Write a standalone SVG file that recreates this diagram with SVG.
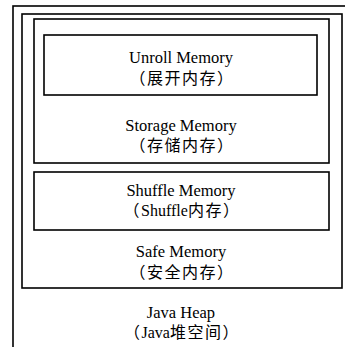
<svg xmlns="http://www.w3.org/2000/svg" width="345" height="347" viewBox="0 0 345 347">
<style>
.box{fill:none;stroke:#000;stroke-width:1.6}
.t{font-family:"Liberation Serif","Times New Roman","Noto Sans CJK SC",serif;font-size:16.5px;fill:#000;text-anchor:middle}
.c{font-family:"Liberation Serif","Noto Sans CJK SC",serif;font-size:16px;fill:#000;text-anchor:middle}
.s{letter-spacing:1.5px}
</style>
<rect width="345" height="347" fill="#fff"/>
<g id="java-heap">
<rect class="box" x="13" y="6" width="345" height="360"/>
<text class="t" x="181" y="318">Java Heap</text>
<text class="c" x="182" y="338"><tspan class="s">（</tspan>Java<tspan class="s">堆空间）</tspan></text>
</g>
<g id="safe-memory">
<rect class="box" x="22" y="14" width="320" height="274"/>
<text class="t" x="181" y="257">Safe Memory</text>
<text class="c s" x="182" y="278">（安全内存）</text>
</g>
<g id="storage-memory">
<rect class="box" x="34" y="19" width="295" height="144"/>
<text class="t" x="181" y="131">Storage Memory</text>
<text class="c s" x="182" y="151">（存储内存）</text>
</g>
<g id="unroll-memory">
<rect class="box" x="44" y="35" width="273" height="60"/>
<text class="t" x="181" y="63">Unroll Memory</text>
<text class="c s" x="182" y="84">（展开内存）</text>
</g>
<g id="shuffle-memory">
<rect class="box" x="34" y="172" width="295" height="58"/>
<text class="t" x="181" y="196">Shuffle Memory</text>
<text class="c" x="182" y="216"><tspan class="s">（</tspan>Shuffle<tspan class="s">内存）</tspan></text>
</g>
<g id="connectors"/>
</svg>
